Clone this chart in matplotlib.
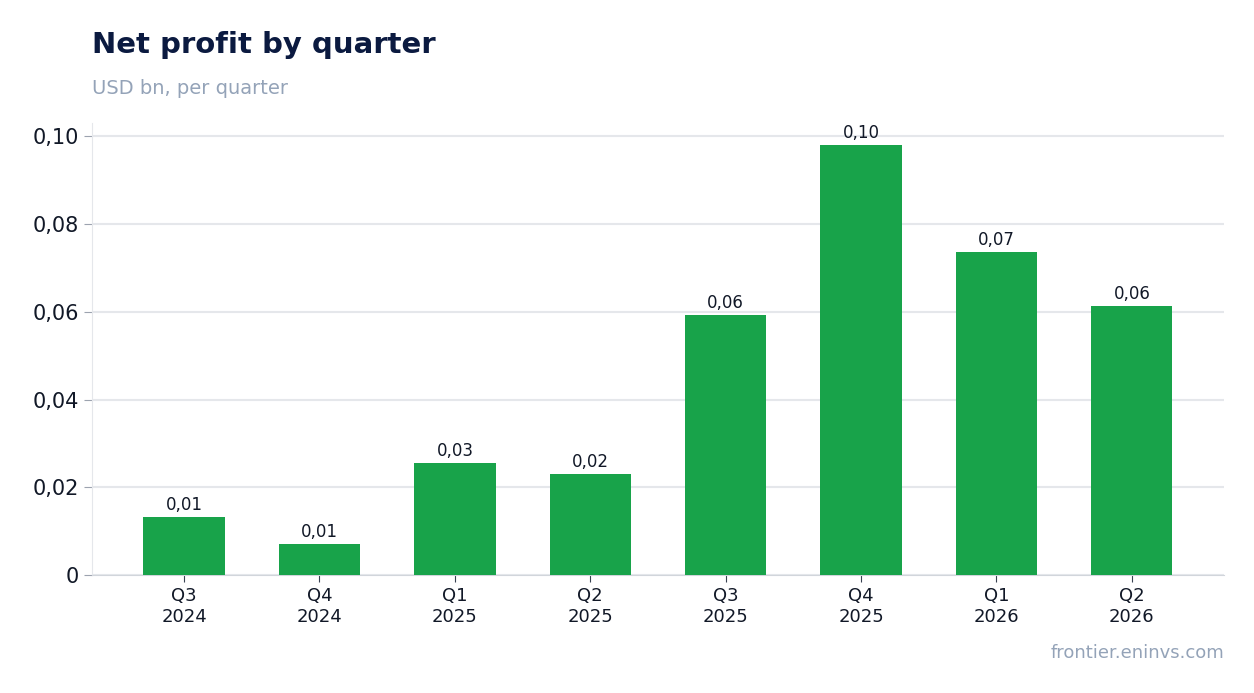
import matplotlib.pyplot as plt
from matplotlib.ticker import FuncFormatter

quarters = ["Q3\n2024", "Q4\n2024", "Q1\n2025", "Q2\n2025", "Q3\n2025", "Q4\n2025", "Q1\n2026", "Q2\n2026"]
profit = [0.0132, 0.0071, 0.0255, 0.0230, 0.0592, 0.0979, 0.0736, 0.0613]

fig = plt.figure(figsize=(12.54, 6.93), dpi=100)
ax = fig.add_axes([0.0734, 0.170, 0.9026, 0.6525])

x = range(len(quarters))
ax.bar(x, profit, width=0.6, color="#18a34a", zorder=3)
for i, v in zip(x, profit):
    ax.text(i, v + 0.0008, f"{v:.2f}".replace(".", ","), ha="center", va="bottom",
            fontsize=12, color="#111827")

ax.set_xlim(-0.68, 7.68)
ax.set_ylim(0, 0.103)
ax.set_yticks([0, 0.02, 0.04, 0.06, 0.08, 0.10])
ax.yaxis.set_major_formatter(FuncFormatter(lambda v, p: "0" if v == 0 else f"{v:.2f}".replace(".", ",")))
ax.set_xticks(list(x))
ax.set_xticklabels(quarters, fontsize=13, color="#111827")
ax.tick_params(axis="y", labelsize=15, labelcolor="#111827", color="#9ca3af", length=6)
ax.tick_params(axis="x", color="#374151", length=5)
ax.grid(axis="y", color="#e5e7eb", linewidth=1.5, zorder=0)
for s in ["top", "right"]:
    ax.spines[s].set_visible(False)
ax.spines["left"].set_color("#e5e7eb")
ax.spines["bottom"].set_color("#d1d5db")

fig.text(0.0734, 0.935, "Net profit by quarter", fontsize=21, fontweight="bold", color="#0b1a40", va="center")
fig.text(0.0734, 0.873, "USD bn, per quarter", fontsize=14, color="#94a3b8", va="center")
fig.text(0.976, 0.058, "frontier.eninvs.com", fontsize=13, color="#94a3b8", ha="right", va="center")

fig.savefig("out.png")
